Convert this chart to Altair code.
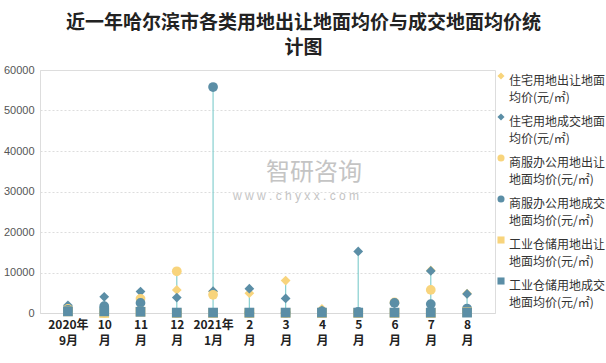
import altair as alt
import pandas as pd

months = ["2020年\n9月", "10\n月", "11\n月", "12\n月", "2021年\n1月", "2\n月",
          "3\n月", "4\n月", "5\n月", "6\n月", "7\n月", "8\n月"]

series_names = [
    "住宅用地出让地面\n均价(元/㎡)",
    "住宅用地成交地面\n均价(元/㎡)",
    "商服办公用地出让\n地面均价(元/㎡)",
    "商服办公用地成交\n地面均价(元/㎡)",
    "工业仓储用地出让\n地面均价(元/㎡)",
    "工业仓储用地成交\n地面均价(元/㎡)",
]

res_transfer = [1300, 0, 3800, 5700, 5300, 4900, 8000, 1000, 0, 0, 10500, 4800]
res_deal = [1900, 4000, 5300, 3800, 5400, 6000, 3600, 600, 15200, 2400, 10400, 4700]
com_transfer = [1000, 0, 3500, 10300, 4500, 0, 0, 0, 0, 2600, 5700, 300]
com_deal = [800, 1700, 2500, 0, 55800, 0, 0, 400, 300, 2500, 2200, 1100]
ind_transfer = [400, 0, 300, 0, 0, 0, 0, 0, 0, 0, 0, 200]
ind_deal = [400, 400, 300, 100, 100, 100, 100, 100, 100, 100, 100, 100]

all_series = [res_transfer, res_deal, com_transfer, com_deal, ind_transfer, ind_deal]

rows = []
for si, (name, vals) in enumerate(zip(series_names, all_series)):
    for mi, (m, v) in enumerate(zip(months, vals)):
        rows.append({"month": m, "series": name, "value": v, "order": si})
df = pd.DataFrame(rows)

yellow = "#F8D47C"
blue = "#5B8EA6"
colors = [yellow, blue, yellow, blue, yellow, blue]
shapes = ["diamond", "diamond", "circle", "circle", "square", "square"]

x_enc = alt.X("month:N", sort=months,
              scale=alt.Scale(type="point", padding=0.77),
              axis=alt.Axis(title=None, labelAngle=0, ticks=False,
                            labelExpr="split(datum.label, '\\n')",
                            labelFont="Noto Sans CJK SC", labelFontWeight="bold",
                            labelFontSize=12, labelColor="#222", labelPadding=6,
                            labelLineHeight=16,
                            domainColor="#d9d9d9", grid=False))

y_scale = alt.Scale(domain=[0, 60000], nice=False)

rule = alt.Chart(df).mark_rule(color="#86CFCF", strokeWidth=1.2).encode(
    x=x_enc,
    y=alt.Y("min(value):Q", scale=y_scale),
    y2="max(value):Q",
)

points = alt.Chart(df).mark_point(filled=True, opacity=1, size=95).encode(
    x=x_enc,
    y=alt.Y("value:Q", scale=y_scale,
            axis=alt.Axis(title=None, values=[0, 10000, 20000, 30000, 40000, 50000, 60000],
                          ticks=False, domain=False, labelColor="#555",
                          labelFont="Liberation Sans", labelFontSize=11, labelPadding=6,
                          gridDash=[2, 2], gridColor="#dddddd", format="d")),
    color=alt.Color("series:N", sort=series_names,
                    scale=alt.Scale(domain=series_names, range=colors),
                    legend=alt.Legend(title=None, orient="right", offset=0,
                                      labelExpr="split(datum.label, '\\n')",
                                      labelFont="Noto Sans CJK SC", labelFontSize=12,
                                      labelColor="#333", labelLimit=200,
                                      labelBaseline="top",
                                      labelOffset=2, rowPadding=7, symbolSize=50,
                                      padding=0)),
    shape=alt.Shape("series:N", sort=series_names,
                    scale=alt.Scale(domain=series_names, range=shapes)),
    order=alt.Order("order:Q"),
)

wm1 = alt.Chart(pd.DataFrame({"t": ["智研咨询"]})).mark_text(
    font="Noto Sans CJK SC", fontSize=24, color="#c4c4c4", align="left", baseline="middle"
).encode(text="t:N", x=alt.value(226), y=alt.value(103))
wm2 = alt.Chart(pd.DataFrame({"t": ["w w w . c h y x x . c o m"]})).mark_text(
    font="Liberation Sans", fontSize=12, color="#c4c4c4", align="left", baseline="middle"
).encode(text="t:N", x=alt.value(193), y=alt.value(126))

chart = alt.layer(wm1, wm2, rule, points).properties(
    width=455, height=243,
    autosize=alt.AutoSizeParams(type="none"),
    padding={"left": 40, "top": 70, "right": 111, "bottom": 50},
    title=alt.TitleParams(
        text=["近一年哈尔滨市各类用地出让地面均价与成交地面均价统", "计图"],
        font="Noto Sans CJK SC", fontSize=19, fontWeight="bold", color="#222",
        anchor="middle", dx=36, offset=6, lineHeight=25),
).configure_view(stroke=None).configure(style={"guide-label": {"lineHeight": 17}})

chart.save("out.html", embed_options={"renderer": "svg", "actions": False})
